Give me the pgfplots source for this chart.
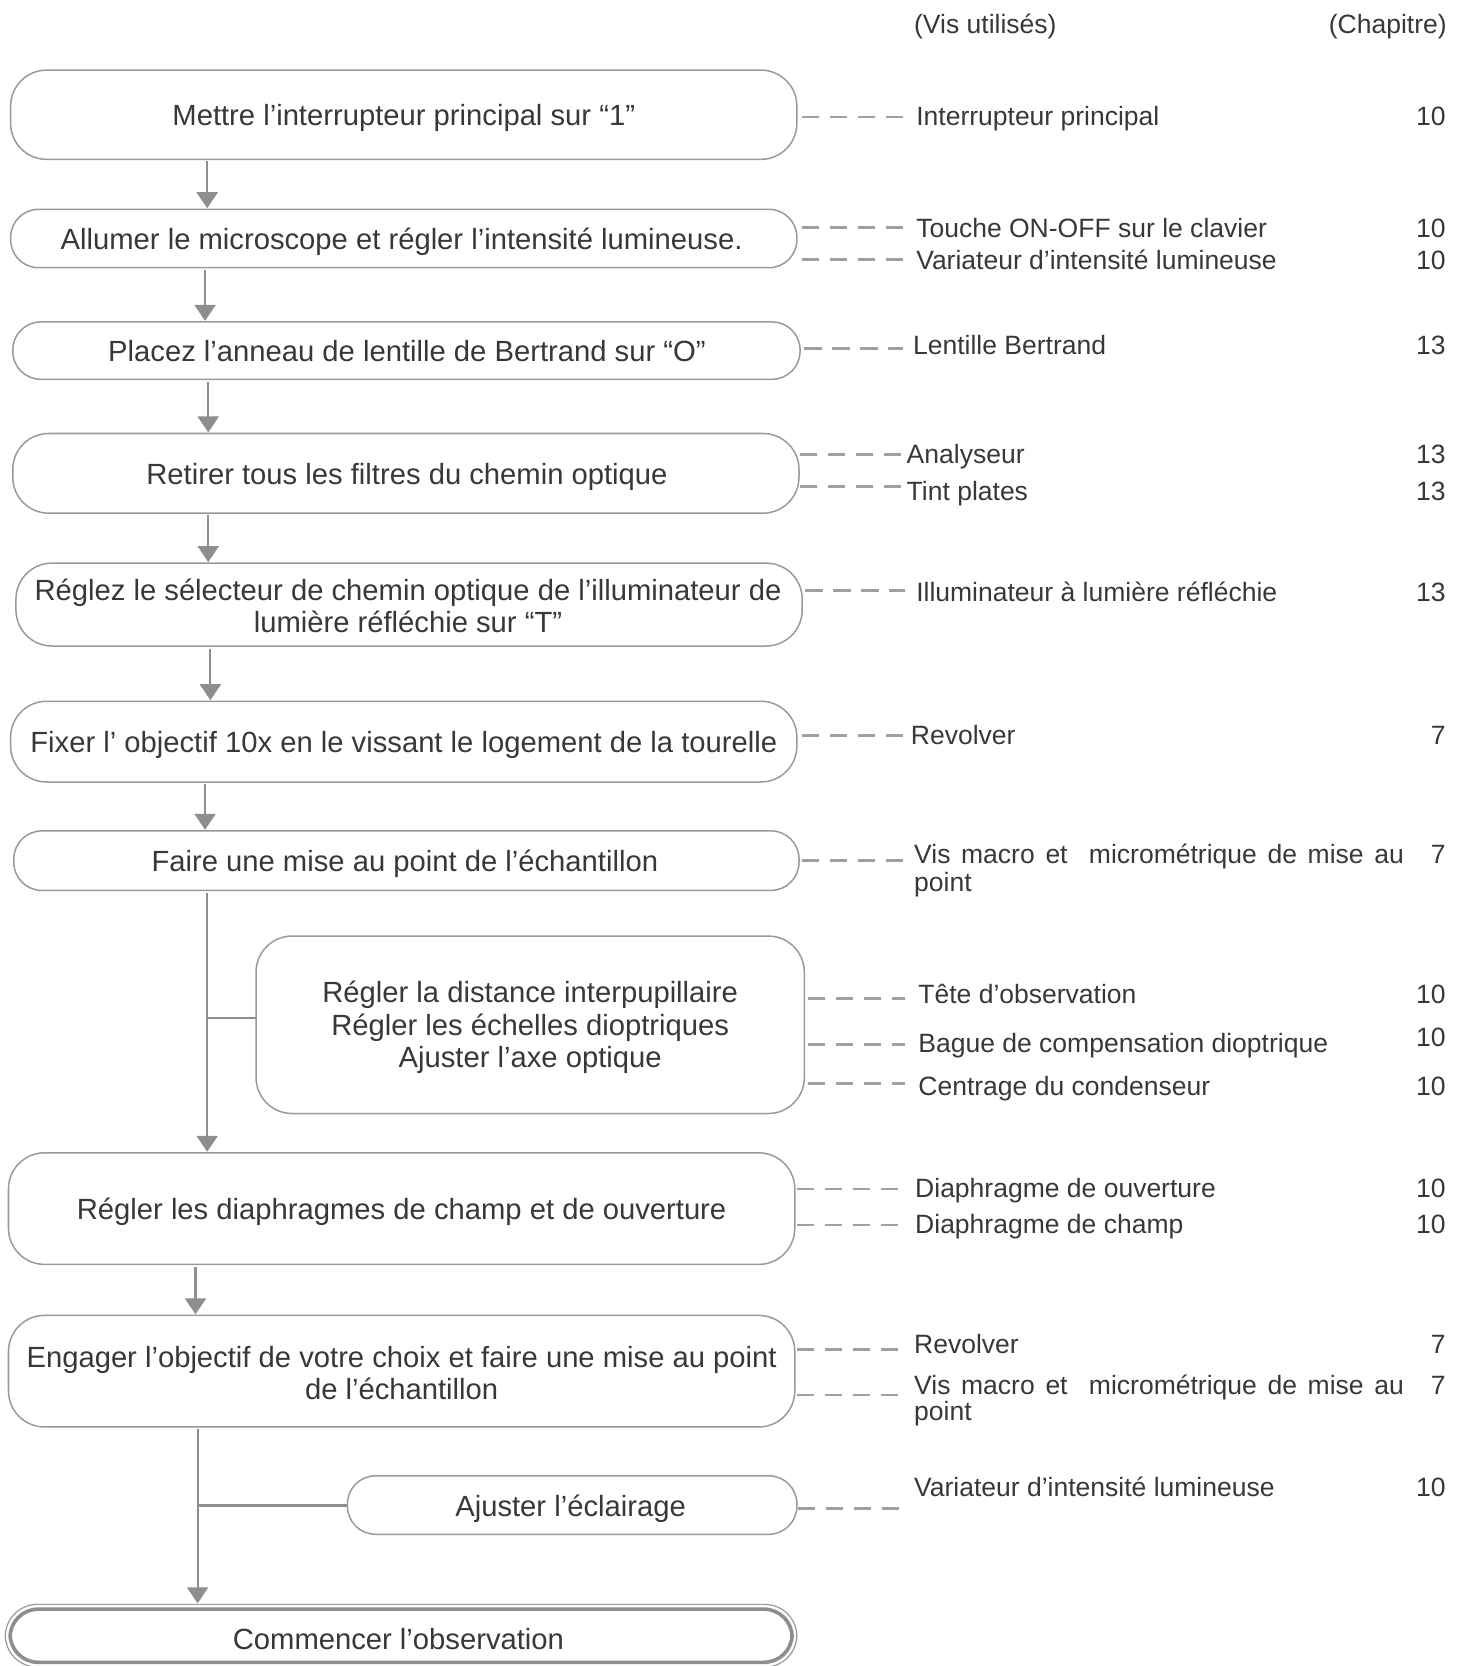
\documentclass[border=0pt]{standalone}
\usepackage{fontspec}
\setmainfont{Liberation Sans}
\usepackage{pgfplots}
\pgfplotsset{compat=1.18}
\usetikzlibrary{arrows.meta}
\definecolor{txt}{HTML}{383838}
\definecolor{boxc}{HTML}{9A9A9A}
\definecolor{arr}{HTML}{8E8E92}
\definecolor{dsh}{HTML}{A0A0A4}
\newcommand{\sm}{\fontsize{13.25}{15}\selectfont}
\newcommand{\bx}[5]{\draw[boxc, line width=0.75pt, fill=white, rounded corners=#5] (axis cs:#1,#2) rectangle (axis cs:#3,#4);}
\newcommand{\dl}[3]{\addplot[dsh, line width=1.3pt, dash pattern=on 8.6pt off 5.4pt] coordinates {(#1,#3) (#2,#3)};}
\newcommand{\ar}[3]{\addplot[arr, line width=1.1pt, -{Triangle[width=10.5pt,length=8pt]}] coordinates {(#1,#2) (#1,#3)};}
\newcommand{\lab}[3]{\node[anchor=base west, font=\sm] at (axis cs:#1,#2) {#3};}
\newcommand{\chap}[2]{\node[anchor=base east, font=\sm] at (axis cs:1361,#1) {#2};}
\begin{document}
\begin{tikzpicture}[font=\fontsize{14.6}{16.1}\selectfont, every node/.style={text=txt, inner sep=0pt}]
\begin{axis}[x=0.5311pt, y=0.5311pt, y dir=reverse, xmin=0, xmax=1382, ymin=0, ymax=1568, hide axis, clip=false]
\coordinate (BL) at (axis cs:0,1568);
\coordinate (TR) at (axis cs:1382,0);
% headers
\node[anchor=base west, font=\sm] at (axis cs:860,32) {(Vis utilisés)};
\node[anchor=base east, font=\sm] at (axis cs:1362,32) {(Chapitre)};
% arrows and connectors
\ar{195}{152}{196}
\ar{193}{254}{302}
\ar{196}{360}{407}
\ar{196}{485}{529}
\ar{198}{611}{659}
\ar{193}{738}{781}
\ar{195}{840}{1084}
\addplot[arr, line width=1.1pt] coordinates {(195,958) (241,958)};
\ar{184}{1192}{1237}
\ar{186}{1345}{1509}
\addplot[arr, line width=1.1pt] coordinates {(186,1417) (327,1417)};
% dashed leaders
\dl{755}{850}{110}
\dl{755}{850}{214}
\dl{755}{850}{244}
\dl{757}{850}{328}
\dl{753}{848}{428}
\dl{753}{848}{458}
\dl{758}{852}{556}
\dl{755}{850}{692}
\dl{755}{850}{810}
\dl{760}{852}{940}
\dl{760}{852}{983}
\dl{760}{852}{1020}
\dl{750}{847}{1119}
\dl{750}{847}{1153}
\dl{750}{847}{1270}
\dl{750}{847}{1313}
\dl{751}{847}{1420}
% boxes
\bx{10}{66}{750}{150}{18pt}
\bx{10}{197}{750}{252}{14pt}
\bx{12}{303}{753}{357}{14pt}
\bx{12}{408}{752}{483}{18pt}
\bx{15}{530}{755}{608}{18pt}
\bx{10}{660}{750}{736}{18pt}
\bx{13}{782}{752}{838}{14pt}
\bx{241}{881}{757}{1048}{18pt}
\bx{8}{1085}{748}{1190}{18pt}
\bx{8}{1238}{748}{1343}{18pt}
\bx{327}{1389}{750}{1444}{14pt}
\draw[boxc, line width=0.6pt, fill=white, rounded corners=16pt] (axis cs:5,1510) rectangle (axis cs:750,1569);
\draw[arr, line width=1.8pt, rounded corners=14pt] (axis cs:9.5,1514.5) rectangle (axis cs:745.5,1564.5);
% box texts
\node[anchor=base] at (axis cs:380,118) {Mettre l’interrupteur principal sur “1”};
\node[anchor=base] at (axis cs:378,235) {Allumer le microscope et régler l’intensité lumineuse.};
\node[anchor=base] at (axis cs:383,340) {Placez l’anneau de lentille de Bertrand sur “O”};
\node[anchor=base] at (axis cs:383,456) {Retirer tous les filtres du chemin optique};
\node[align=center] at (axis cs:384,570) {Réglez le sélecteur de chemin optique de l’illuminateur de\\lumière réfléchie sur “T”};
\node[anchor=base] at (axis cs:380,708) {Fixer l’ objectif 10x en le vissant le logement de la tourelle};
\node[anchor=base] at (axis cs:381,820) {Faire une mise au point de l’échantillon};
\node[align=center] at (axis cs:499,967) {Régler la distance interpupillaire\\Régler les échelles dioptriques\\Ajuster l’axe optique};
\node[anchor=base] at (axis cs:378,1148) {Régler les diaphragmes de champ et de ouverture};
\node[align=center] at (axis cs:378,1292) {Engager l’objectif de votre choix et faire une mise au point\\de l’échantillon};
\node[anchor=base] at (axis cs:537,1427) {Ajuster l’éclairage};
\node[anchor=base] at (axis cs:375,1552) {Commencer l’observation};
% labels
\lab{862}{118}{Interrupteur principal} \chap{118}{10}
\lab{862}{224}{Touche ON-OFF sur le clavier} \chap{224}{10}
\lab{862}{254}{Variateur d’intensité lumineuse} \chap{254}{10}
\lab{859}{334}{Lentille Bertrand} \chap{334}{13}
\lab{853}{436}{Analyseur} \chap{436}{13}
\lab{853}{471}{Tint plates} \chap{471}{13}
\lab{862}{566}{Illuminateur à lumière réfléchie} \chap{566}{13}
\lab{857}{701}{Revolver} \chap{701}{7}
\lab{860}{813}{\makebox[244.8pt][s]{Vis macro et\ \ micrométrique de mise au}} \chap{813}{7}
\lab{860}{839}{point}
\lab{864}{944}{Tête d’observation} \chap{944}{10}
\lab{864}{991}{Bague de compensation dioptrique} \chap{985}{10}
\lab{864}{1031}{Centrage du condenseur} \chap{1031}{10}
\lab{861}{1127}{Diaphragme de ouverture} \chap{1127}{10}
\lab{861}{1161}{Diaphragme de champ} \chap{1161}{10}
\lab{860}{1274}{Revolver} \chap{1274}{7}
\lab{860}{1312}{\makebox[244.8pt][s]{Vis macro et\ \ micrométrique de mise au}} \chap{1312}{7}
\lab{860}{1337}{point}
\lab{860}{1408}{Variateur d’intensité lumineuse} \chap{1408}{10}
\end{axis}
\pgfresetboundingbox
\path (BL) rectangle (TR);
\end{tikzpicture}
\end{document}
